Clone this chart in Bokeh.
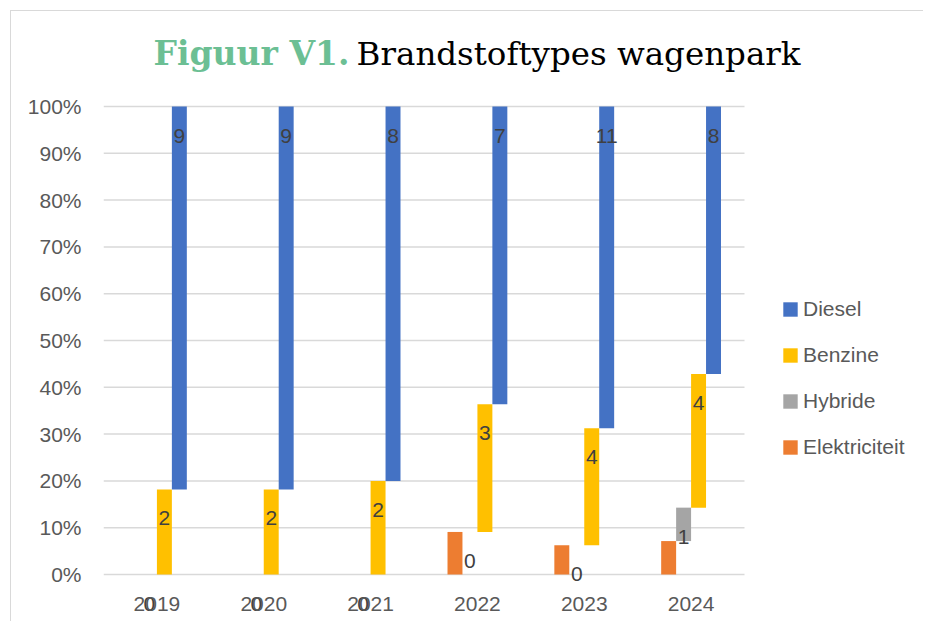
from bokeh.plotting import figure
from bokeh.models import (ColumnDataSource, Range1d, NumeralTickFormatter,
                          FixedTicker, Legend, LegendItem)
from bokeh.layouts import column
from bokeh.core.properties import value
from bokeh.embed import file_html
from bokeh.resources import INLINE

# ---- data ----
years = ["2019", "2020", "2021", "2022", "2023", "2024"]
elektriciteit = [0, 0, 0, 1, 1, 1]
hybride = [0, 0, 0, 0, 0, 1]
benzine = [2, 2, 2, 3, 4, 4]
diesel = [9, 9, 8, 7, 11, 8]
series_names = ["Diesel", "Benzine", "Hybride", "Elektriciteit"]
y_ticks = [0, 0.1, 0.2, 0.3, 0.4, 0.5, 0.6, 0.7, 0.8, 0.9, 1.0]
title_prefix = "Figuur V1."
title_text = "Brandstoftypes wagenpark"

colors = {"Diesel": "#4472C4", "Benzine": "#FFC000", "Hybride": "#A5A5A5", "Elektriciteit": "#ED7D31"}
offsets = {"Elektriciteit": -0.21, "Hybride": -0.07, "Benzine": 0.07, "Diesel": 0.21}

# 100% stacked shares
n = len(years)
centers = [i + 0.5 for i in range(n)]
totals = [e + h + b + d for e, h, b, d in zip(elektriciteit, hybride, benzine, diesel)]
e_top = [e / t for e, t in zip(elektriciteit, totals)]
h_top = [(e + h) / t for e, h, t in zip(elektriciteit, hybride, totals)]
b_top = [(e + h + b) / t for e, h, b, t in zip(elektriciteit, hybride, benzine, totals)]
d_top = [1.0 for _ in totals]

src = ColumnDataSource(dict(
    xc=centers,
    xe=[c + offsets["Elektriciteit"] for c in centers],
    xh=[c + offsets["Hybride"] for c in centers],
    xb=[c + offsets["Benzine"] for c in centers],
    xd=[c + offsets["Diesel"] for c in centers],
    e_bot=[0.0] * n, e_top=e_top,
    h_bot=e_top, h_top=h_top,
    b_bot=h_top, b_top=b_top,
    d_bot=b_top, d_top=d_top,
    h_lab=[str(v) for v in hybride],
    b_lab=[str(v) for v in benzine],
    d_lab=[str(v) for v in diesel],
))

# layout geometry (pixels)
FRAME_W = 820          # frame spans the chart area plus the legend column
CAT_PX = 641 / n       # plot area width per category
TOP_PX = 95            # room above 100% for the title
BOT_PX = 47            # room below 0% for the year labels
UNIT_PX = 468          # pixels for 0..100%

p = figure(width=912, height=610, output_backend="svg", toolbar_location=None,
           x_range=Range1d(0, FRAME_W / CAT_PX),
           y_range=Range1d(-BOT_PX / UNIT_PX, 1 + TOP_PX / UNIT_PX),
           min_border_left=92, min_border_right=0, min_border_top=0, min_border_bottom=0)
p.outline_line_color = None
p.background_fill_color = "white"
p.border_fill_color = "white"

# gridlines drawn over the category area only
p.xgrid.grid_line_color = None
p.ygrid.grid_line_color = None
p.segment(x0=[0] * len(y_ticks), x1=[n] * len(y_ticks), y0=y_ticks, y1=y_ticks,
          line_color="#d9d9d9", line_width=1.5)

# axes
p.yaxis.ticker = FixedTicker(ticks=y_ticks)
p.yaxis.formatter = NumeralTickFormatter(format="0%")
p.xaxis.ticker = FixedTicker(ticks=centers)
p.xaxis.major_label_overrides = {c: y for c, y in zip(centers, years)}
p.xaxis.fixed_location = 0
for ax in (p.xaxis, p.yaxis):
    ax.axis_line_color = None
    ax.major_tick_line_color = None
    ax.minor_tick_line_color = None
    ax.major_tick_out = 0
    ax.major_tick_in = 0
    ax.major_label_text_font = "Liberation Sans"
    ax.major_label_text_font_size = "21px"
    ax.major_label_text_color = "#595959"
p.yaxis.major_label_standoff = 22
p.xaxis.major_label_standoff = 22

W = 0.14
renderers = {}
for name, xcol, bot, top in [("Elektriciteit", "xe", "e_bot", "e_top"), ("Hybride", "xh", "h_bot", "h_top"),
                             ("Benzine", "xb", "b_bot", "b_top"), ("Diesel", "xd", "d_bot", "d_top")]:
    renderers[name] = p.vbar(x=xcol, bottom=bot, top=top, width=W,
                             fill_color=colors[name], line_color=None, source=src)

# data labels (inside end)
for xcol, top_col, lab_col in [("xh", "h_top", "h_lab"), ("xb", "b_top", "b_lab"), ("xd", "d_top", "d_lab")]:
    p.text(x=xcol, y=top_col, text=lab_col, source=src,
           text_align="center", text_baseline="middle", y_offset=29,
           text_font=value("Liberation Sans"), text_font_size="21px", text_color="#404040")

# legend
legend = Legend(items=[LegendItem(label=s, renderers=[renderers[s]]) for s in series_names],
                location=(678, 114 + BOT_PX), orientation="vertical",
                glyph_width=18, glyph_height=18, label_standoff=4, label_height=26,
                spacing=20, padding=0, margin=0,
                border_line_color=None, background_fill_alpha=0,
                label_text_font="Liberation Sans", label_text_font_size="21px",
                label_text_color="#595959")
p.add_layout(legend, "center")

# title (two colours)
p.text(x=[50 / CAT_PX], y=[1 + 53 / UNIT_PX], text=[title_prefix], text_align="left",
       text_baseline="alphabetic", text_font=value("DejaVu Serif"), text_font_style="bold",
       text_font_size="33px", text_color="#6cbf94")
p.text(x=[697 / CAT_PX], y=[1 + 53 / UNIT_PX], text=[title_text], text_align="right",
       text_baseline="alphabetic", text_font=value("DejaVu Serif"),
       text_font_size="32.5px", text_color="#000000")

root = column(p, styles={"border-left": "1px solid #d9d9d9", "border-top": "1px solid #d9d9d9",
                         "margin-left": "10px", "margin-top": "10px"})

open("out.html", "w").write(file_html(root, INLINE))
